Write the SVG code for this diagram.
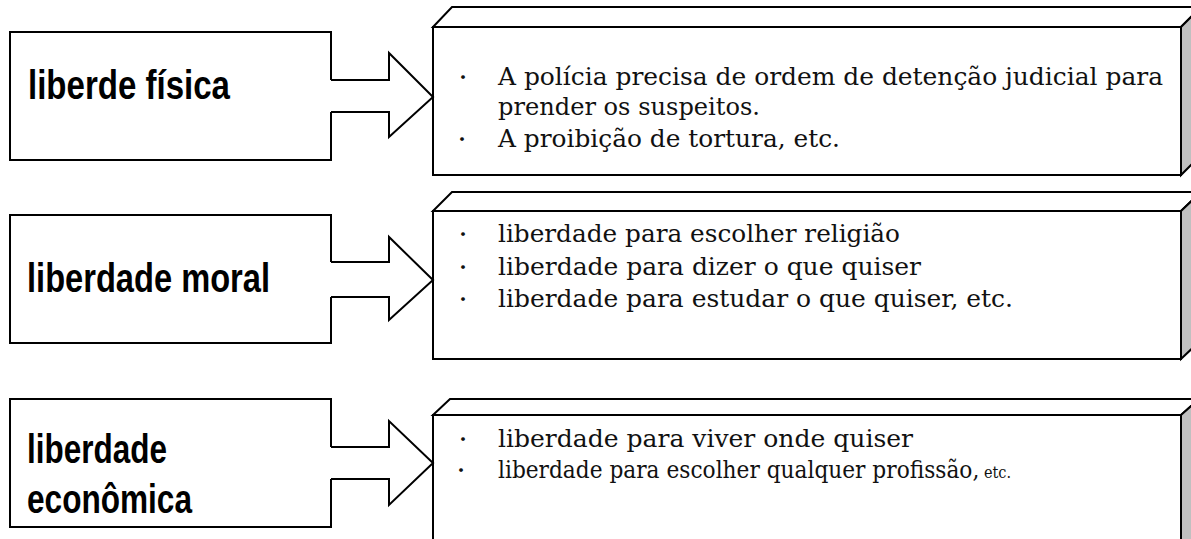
<svg xmlns="http://www.w3.org/2000/svg" width="1191" height="539" viewBox="0 0 1191 539">
<style>
.box{fill:#fff;stroke:#000;stroke-width:2;stroke-linejoin:miter}
.top{fill:#fff;stroke:#000;stroke-width:2}
.side{fill:#c0c0c0;stroke:#000;stroke-width:2}
.arr{fill:#fff;stroke:#000;stroke-width:2;stroke-linejoin:miter}
.lbl{font-family:"Liberation Sans",Arial,sans-serif;font-weight:bold;font-size:41px;fill:#000}
.txt{font-family:"DejaVu Serif","Liberation Serif",serif;font-size:24px;fill:#111}
.bul{font-family:"Noto Sans CJK JP","DejaVu Sans",sans-serif;font-size:18px;fill:#111}
</style>
<rect width="1191" height="539" fill="#fff"/>

<g id="src1">
  <path class="box" d="M331,80 V32 H10 V160 H331 V112"/>
  <text class="lbl" x="28" y="99" textLength="202" lengthAdjust="spacingAndGlyphs">liberde física</text>
</g>
<g id="src2">
  <path class="box" d="M331,262 V215 H10 V343 H331 V297"/>
  <text class="lbl" x="27" y="292" textLength="243" lengthAdjust="spacingAndGlyphs">liberdade moral</text>
</g>
<g id="src3">
  <path class="box" d="M331,447 V399 H10 V527 H331 V479"/>
  <text class="lbl" x="27" y="463" textLength="140" lengthAdjust="spacingAndGlyphs">liberdade</text>
  <text class="lbl" x="27" y="513" textLength="165" lengthAdjust="spacingAndGlyphs">econômica</text>
</g>

<g id="dst1">
  <polygon class="top" points="433,27 452,7 1201,7 1181,27"/>
  <polygon class="side" points="1181,27 1201,7 1201,155 1181,175"/>
  <rect class="box" x="433" y="27" width="748" height="148"/>
  <text class="bul" x="454" y="84">・</text>
  <text class="txt" x="498" y="85" textLength="665" lengthAdjust="spacingAndGlyphs">A polícia precisa de ordem de detenção judicial para</text>
  <text class="txt" x="498" y="115" textLength="262" lengthAdjust="spacingAndGlyphs">prender os suspeitos.</text>
  <text class="bul" x="453" y="146">・</text>
  <text class="txt" x="498" y="147" textLength="342" lengthAdjust="spacingAndGlyphs">A proibição de tortura, etc.</text>
</g>
<g id="dst2">
  <polygon class="top" points="433,211 452,192 1201,192 1181,211"/>
  <polygon class="side" points="1181,211 1201,192 1201,340 1181,359"/>
  <rect class="box" x="433" y="211" width="748" height="148"/>
  <text class="bul" x="454" y="241">・</text>
  <text class="txt" x="498" y="242" textLength="402" lengthAdjust="spacingAndGlyphs">liberdade para escolher religião</text>
  <text class="bul" x="454" y="274">・</text>
  <text class="txt" x="498" y="275" textLength="423" lengthAdjust="spacingAndGlyphs">liberdade para dizer o que quiser</text>
  <text class="bul" x="454" y="306">・</text>
  <text class="txt" x="498" y="307" textLength="515" lengthAdjust="spacingAndGlyphs">liberdade para estudar o que quiser, etc.</text>
</g>
<g id="dst3">
  <polygon class="top" points="433,415 450,399 1199,399 1181,415"/>
  <polygon class="side" points="1181,415 1199,399 1199,560 1181,580"/>
  <rect class="box" x="433" y="415" width="748" height="165"/>
  <text class="bul" x="454" y="446">・</text>
  <text class="txt" x="498" y="447" textLength="415" lengthAdjust="spacingAndGlyphs">liberdade para viver onde quiser</text>
  <text class="bul" x="452" y="477">・</text>
  <text class="txt" x="498" y="478" font-size="21.5" textLength="513" lengthAdjust="spacingAndGlyphs">liberdade para escolher qualquer profissão,<tspan font-size="16"> etc.</tspan></text>
</g>

<g id="connectors">
  <polyline class="arr" points="331,80 389,80 389,53 433,97 389,137 389,112 331,112"/>
  <polyline class="arr" points="331,262 389,262 389,237 433,280 389,320 389,297 331,297"/>
  <polyline class="arr" points="331,447 389,447 389,421 433,463 389,505 389,479 331,479"/>
</g>
</svg>
